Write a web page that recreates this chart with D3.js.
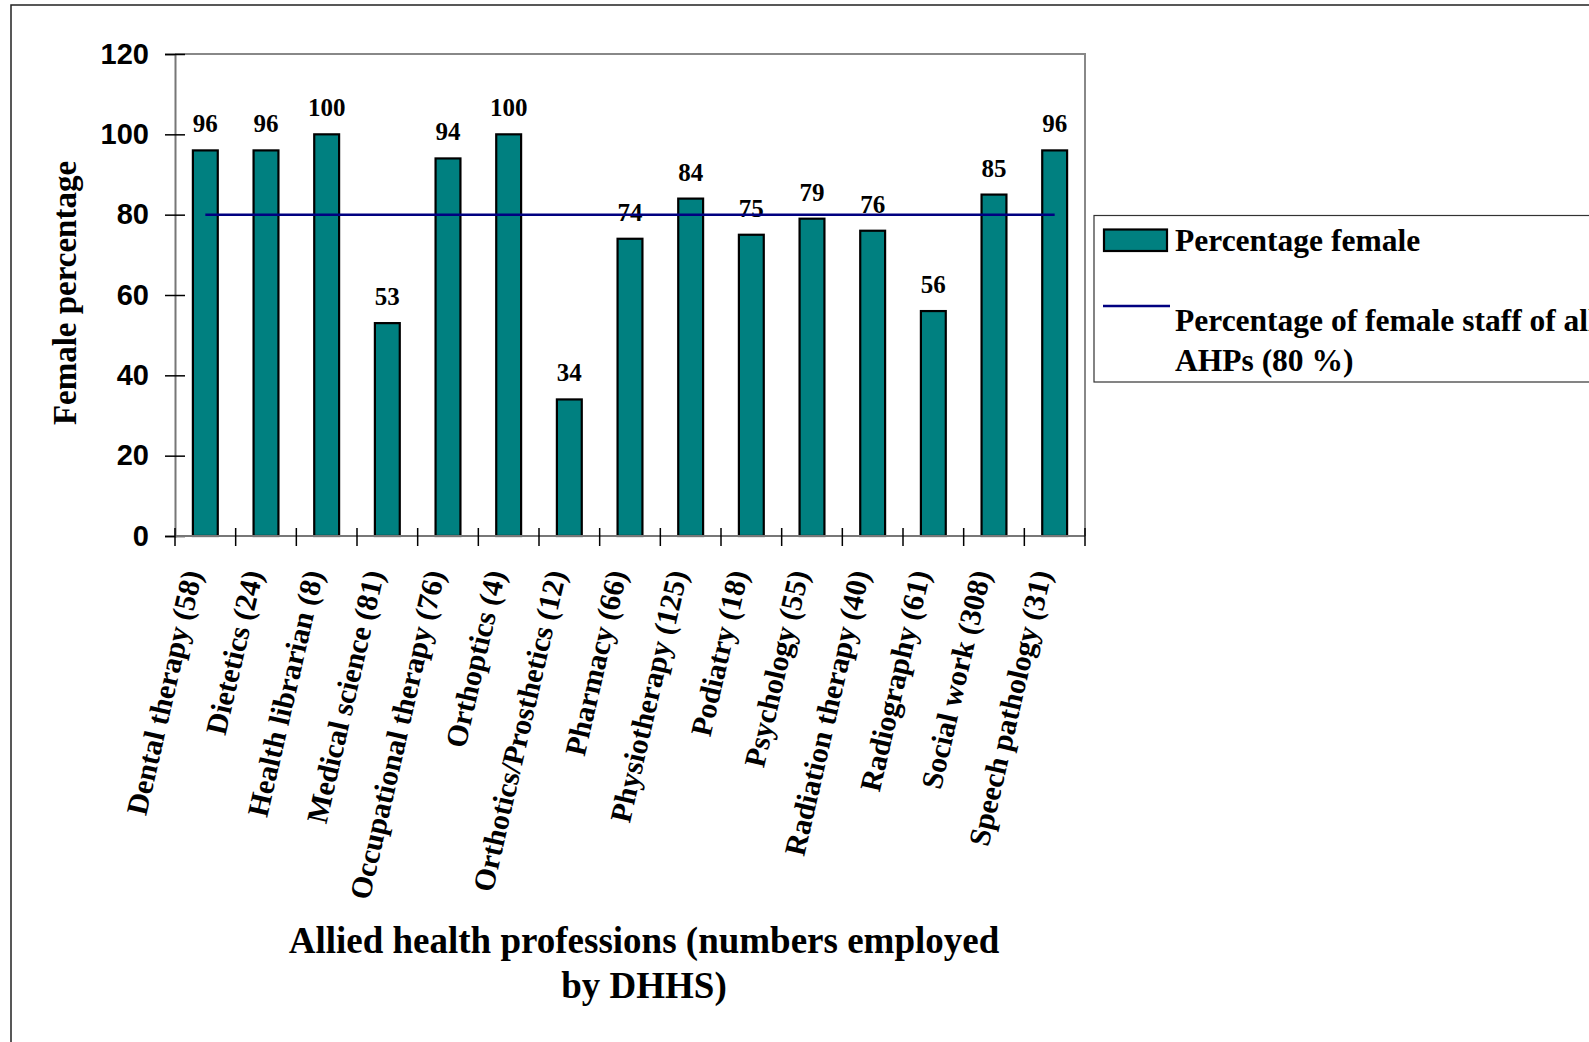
<!DOCTYPE html>
<html>
<head>
<meta charset="utf-8">
<script src="https://cdn.jsdelivr.net/npm/d3@7"></script>
<style>
  html, body { margin: 0; padding: 0; background: #fff; overflow: hidden; }
  svg { display: block; }
  .serif { font-family: "Liberation Serif", "Times New Roman", serif; font-weight: bold; }
  .sans { font-family: "Liberation Sans", Arial, sans-serif; font-weight: bold; }
</style>
</head>
<body>
<svg id="chart" width="1589" height="1042"></svg>
<script>
// professions and how many DHHS employs
var professions = ["Dental therapy", "Dietetics", "Health librarian", "Medical science",
    "Occupational therapy", "Orthoptics", "Orthotics/Prosthetics", "Pharmacy",
    "Physiotherapy", "Podiatry", "Psychology", "Radiation therapy", "Radiography",
    "Social work", "Speech pathology"];
var employed = [58, 24, 8, 81, 76, 4, 12, 66, 125, 18, 55, 40, 61, 308, 31];
// female percentage per profession
var femalePct = [96, 96, 100, 53, 94, 100, 34, 74, 84, 75, 79, 76, 56, 85, 96];
// percentage of female staff across all AHPs
var allAhpPct = 80;
var yTicks = [0, 20, 40, 60, 80, 100, 120];

var categories = professions.map(function (p, i) { return p + " (" + employed[i] + ")"; });

var svg = d3.select("#chart");

// outer frame of the figure (cropped on the right and bottom)
svg.append("rect")
    .attr("x", 11).attr("y", 5)
    .attr("width", 1700).attr("height", 1200)
    .attr("fill", "none").attr("stroke", "#222").attr("stroke-width", 1.5);

// plot area
var plotLeft = 175, plotRight = 1085, plotTop = 54, plotBottom = 536;

var x = d3.scaleBand()
    .domain(categories)
    .range([plotLeft, plotRight])
    .paddingInner(0.59)
    .paddingOuter(0.295);

var y = d3.scaleLinear().domain([0, 120]).range([plotBottom, plotTop]);

// plot area border (top & right)
svg.append("path")
    .attr("d", "M" + plotLeft + "," + plotTop + "H" + plotRight + "V" + plotBottom)
    .attr("fill", "none").attr("stroke", "#888").attr("stroke-width", 2);

// bars
svg.append("g").selectAll("rect")
    .data(femalePct)
    .enter()
    .append("rect")
    .attr("x", function (d, i) { return x(categories[i]); })
    .attr("y", function (d) { return y(d); })
    .attr("width", x.bandwidth())
    .attr("height", function (d) { return y(0) - y(d); })
    .attr("fill", "#008080")
    .attr("stroke", "#000")
    .attr("stroke-width", 2.2);

// y axis
var yAxis = svg.append("g")
    .attr("transform", "translate(" + plotLeft + ",0)")
    .call(d3.axisLeft(y).tickValues(yTicks).tickSize(10).tickPadding(16));
yAxis.select(".domain").attr("stroke", "#777").attr("stroke-width", 2);
yAxis.selectAll(".tick line").attr("x1", 10).attr("stroke", "#000").attr("stroke-width", 1.5);
yAxis.selectAll(".tick text")
    .attr("class", "sans")
    .attr("font-size", 29)
    .attr("fill", "#000");

// x axis line and ticks at category boundaries
svg.append("line")
    .attr("x1", plotLeft).attr("x2", plotRight)
    .attr("y1", plotBottom).attr("y2", plotBottom)
    .attr("stroke", "#777").attr("stroke-width", 2);
svg.append("g").selectAll("line")
    .data(d3.range(categories.length + 1))
    .enter()
    .append("line")
    .attr("x1", function (i) { return plotLeft + i * x.step(); })
    .attr("x2", function (i) { return plotLeft + i * x.step(); })
    .attr("y1", plotBottom - 8).attr("y2", plotBottom + 10)
    .attr("stroke", "#000").attr("stroke-width", 1.5);

// category labels, rotated
svg.append("g").selectAll("text")
    .data(categories)
    .enter()
    .append("text")
    .attr("class", "serif")
    .attr("font-size", 30)
    .attr("text-anchor", "end")
    .attr("transform", function (d) {
        return "translate(" + (x(d) + x.bandwidth() / 2 - 3) + "," + (plotBottom + 37) + ") rotate(-77)";
    })
    .text(function (d) { return d; });

// value labels
svg.append("g").selectAll("text")
    .data(femalePct)
    .enter()
    .append("text")
    .attr("class", "serif")
    .attr("font-size", 25)
    .attr("text-anchor", "middle")
    .attr("x", function (d, i) { return x(categories[i]) + x.bandwidth() / 2; })
    .attr("y", function (d) { return y(d) - 18; })
    .text(function (d) { return d; });

// overall AHP line
svg.append("line")
    .attr("x1", x(categories[0]) + x.bandwidth() / 2)
    .attr("x2", x(categories[categories.length - 1]) + x.bandwidth() / 2)
    .attr("y1", y(allAhpPct)).attr("y2", y(allAhpPct))
    .attr("stroke", "#000080").attr("stroke-width", 2.5);

// axis titles
svg.append("text")
    .attr("class", "serif")
    .attr("font-size", 33)
    .attr("text-anchor", "middle")
    .attr("transform", "translate(76,293) rotate(-90)")
    .text("Female percentage");

var xTitle = svg.append("text")
    .attr("class", "serif")
    .attr("font-size", 37)
    .attr("text-anchor", "middle");
xTitle.append("tspan").attr("x", 644).attr("y", 953).text("Allied health professions (numbers employed");
xTitle.append("tspan").attr("x", 644).attr("y", 998).text("by DHHS)");

// legend
var legend = svg.append("g");
legend.append("rect")
    .attr("x", 1094).attr("y", 215.5)
    .attr("width", 600).attr("height", 166.5)
    .attr("fill", "#fff").attr("stroke", "#333").attr("stroke-width", 1.2);
legend.append("rect")
    .attr("x", 1104).attr("y", 229.5)
    .attr("width", 63).attr("height", 21.5)
    .attr("fill", "#008080").attr("stroke", "#000").attr("stroke-width", 2.2);
legend.append("text")
    .attr("class", "serif").attr("font-size", 31.5)
    .attr("x", 1175).attr("y", 251)
    .text("Percentage female");
legend.append("line")
    .attr("x1", 1103).attr("x2", 1170)
    .attr("y1", 306).attr("y2", 306)
    .attr("stroke", "#000080").attr("stroke-width", 2.5);
var lt = legend.append("text")
    .attr("class", "serif").attr("font-size", 31.5);
lt.append("tspan").attr("x", 1175).attr("y", 331).text("Percentage of female staff of all");
lt.append("tspan").attr("x", 1175).attr("y", 371).text("AHPs (80 %)");
</script>
</body>
</html>
